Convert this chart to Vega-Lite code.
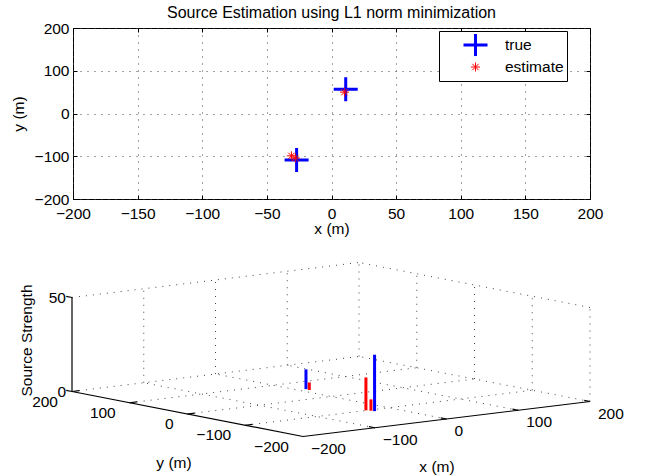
{
  "$schema": "https://vega.github.io/schema/vega-lite/v6.json",
  "padding": {"left": 10, "top": 4, "right": 5, "bottom": 0},
  "background": "white",
  "spacing": 10,
  "datasets": {
    "sources": [
      {"series": "true", "x": 11, "y": 57, "strength": 10.5},
      {"series": "true", "x": -27, "y": -109, "strength": 30},
      {"series": "estimate", "x": 10, "y": 50, "strength": 4},
      {"series": "estimate", "x": -31, "y": -99, "strength": 17.5},
      {"series": "estimate", "x": -28, "y": -104, "strength": 6}
    ],
    "lines3d": [
      {"kind": "grid", "x1": -100, "y1": -200, "z1": 0, "x2": -100, "y2": 200, "z2": 0},
      {"kind": "grid", "x1": 0, "y1": -200, "z1": 0, "x2": 0, "y2": 200, "z2": 0},
      {"kind": "grid", "x1": 100, "y1": -200, "z1": 0, "x2": 100, "y2": 200, "z2": 0},
      {"kind": "grid", "x1": 200, "y1": -200, "z1": 0, "x2": 200, "y2": 200, "z2": 0},
      {"kind": "grid", "x1": -200, "y1": -100, "z1": 0, "x2": 200, "y2": -100, "z2": 0},
      {"kind": "grid", "x1": -200, "y1": 0, "z1": 0, "x2": 200, "y2": 0, "z2": 0},
      {"kind": "grid", "x1": -200, "y1": 100, "z1": 0, "x2": 200, "y2": 100, "z2": 0},
      {"kind": "grid", "x1": -200, "y1": 200, "z1": 0, "x2": 200, "y2": 200, "z2": 0},
      {"kind": "grid", "x1": -100, "y1": 200, "z1": 0, "x2": -100, "y2": 200, "z2": 50},
      {"kind": "grid", "x1": 0, "y1": 200, "z1": 0, "x2": 0, "y2": 200, "z2": 50},
      {"kind": "grid", "x1": 100, "y1": 200, "z1": 0, "x2": 100, "y2": 200, "z2": 50},
      {"kind": "grid", "x1": 200, "y1": 200, "z1": 0, "x2": 200, "y2": 200, "z2": 50},
      {"kind": "grid", "x1": -200, "y1": 200, "z1": 50, "x2": 200, "y2": 200, "z2": 50},
      {"kind": "grid", "x1": 200, "y1": -200, "z1": 0, "x2": 200, "y2": -200, "z2": 50},
      {"kind": "grid", "x1": 200, "y1": -100, "z1": 0, "x2": 200, "y2": -100, "z2": 50},
      {"kind": "grid", "x1": 200, "y1": 0, "z1": 0, "x2": 200, "y2": 0, "z2": 50},
      {"kind": "grid", "x1": 200, "y1": 100, "z1": 0, "x2": 200, "y2": 100, "z2": 50},
      {"kind": "grid", "x1": 200, "y1": -200, "z1": 50, "x2": 200, "y2": 200, "z2": 50},
      {"kind": "axis", "x1": -200, "y1": 200, "z1": 0, "x2": -200, "y2": 200, "z2": 50},
      {"kind": "axis", "x1": -200, "y1": -200, "z1": 0, "x2": -200, "y2": 200, "z2": 0},
      {"kind": "axis", "x1": -200, "y1": -200, "z1": 0, "x2": 200, "y2": -200, "z2": 0},
      {"kind": "axis", "x1": -100, "y1": -200, "z1": 0, "x2": -100, "y2": -190, "z2": 0},
      {"kind": "axis", "x1": 0, "y1": -200, "z1": 0, "x2": 0, "y2": -190, "z2": 0},
      {"kind": "axis", "x1": 100, "y1": -200, "z1": 0, "x2": 100, "y2": -190, "z2": 0},
      {"kind": "axis", "x1": 200, "y1": -200, "z1": 0, "x2": 200, "y2": -190, "z2": 0},
      {"kind": "axis", "x1": -200, "y1": -100, "z1": 0, "x2": -190, "y2": -100, "z2": 0},
      {"kind": "axis", "x1": -200, "y1": 0, "z1": 0, "x2": -190, "y2": 0, "z2": 0},
      {"kind": "axis", "x1": -200, "y1": 100, "z1": 0, "x2": -190, "y2": 100, "z2": 0},
      {"kind": "axis", "x1": -200, "y1": 200, "z1": 0, "x2": -190, "y2": 200, "z2": 0},
      {"kind": "axis", "x1": -200, "y1": 200, "z1": 0, "x2": -200, "y2": 210, "z2": 0},
      {"kind": "axis", "x1": -200, "y1": 200, "z1": 50, "x2": -200, "y2": 210, "z2": 50}
    ],
    "xlab": [
      {"x": -200, "y": -200, "z": 0},
      {"x": -100, "y": -200, "z": 0},
      {"x": 0, "y": -200, "z": 0},
      {"x": 100, "y": -200, "z": 0},
      {"x": 200, "y": -200, "z": 0}
    ],
    "ylab": [
      {"x": -200, "y": 200, "z": 0},
      {"x": -200, "y": 100, "z": 0},
      {"x": -200, "y": 0, "z": 0},
      {"x": -200, "y": -100, "z": 0},
      {"x": -200, "y": -200, "z": 0}
    ],
    "zlab": [
      {"x": -200, "y": 200, "z": 0},
      {"x": -200, "y": 200, "z": 50}
    ]
  },
  "vconcat": [
    {
      "width": 517,
      "height": 171,
      "title": {"text": "Source Estimation using L1 norm minimization", "offset": 0},
      "data": {"name": "sources"},
      "layer": [
        {
          "mark": {"type": "point", "filled": false, "opacity": 1},
          "encoding": {
            "x": {"field": "x", "type": "quantitative",
                  "scale": {"domain": [-200, 200], "nice": false, "zero": false},
                  "axis": {"orient": "bottom", "values": [-200, -150, -100, -50, 0, 50, 100, 150, 200], "title": "x (m)", "grid": true, "labelPadding": 11, "titlePadding": 0, "labelFlush": false}},
            "y": {"field": "y", "type": "quantitative",
                  "scale": {"domain": [-200, 200], "nice": false, "zero": false},
                  "axis": {"orient": "left", "values": [-200, -100, 0, 100, 200], "title": "y (m)", "grid": true, "labelPadding": 8, "titlePadding": 8, "labelFlush": false}},
            "color": {"field": "series", "type": "nominal",
                      "scale": {"domain": ["true", "estimate"], "range": ["#0000ff", "#ff0000"]},
                      "legend": {"orient": "none", "legendX": 366, "legendY": 3, "title": " ", "titleOrient": "left", "titlePadding": 5, "titleFontSize": 15.5, "strokeColor": "#000", "fillColor": "#fff", "padding": 3, "symbolOffset": 15, "labelOffset": 16, "rowPadding": 0, "clipHeight": 22, "labelFontSize": 15.5, "labelFont": "Liberation Sans", "labelColor": "#000"}},
            "shape": {"field": "series", "type": "nominal",
                      "scale": {"domain": ["true", "estimate"], "range": ["M-1,0L1,0M0,-1L0,1", "M-1,0L1,0M0,-1L0,1M-0.7,-0.7L0.7,0.7M-0.7,0.7L0.7,-0.7"]}},
            "size": {"field": "series", "type": "ordinal",
                     "scale": {"domain": ["true", "estimate"], "range": [576, 81]}},
            "strokeWidth": {"field": "series", "type": "ordinal",
                     "scale": {"domain": ["true", "estimate"], "range": [3, 1]}}
          }
        },
        {
          "mark": {"type": "point", "opacity": 0},
          "encoding": {
            "x": {"field": "x", "type": "quantitative",
                  "axis": {"orient": "top", "values": [-200, -150, -100, -50, 0, 50, 100, 150, 200], "labels": false, "title": null, "grid": false}},
            "y": {"field": "y", "type": "quantitative",
                  "axis": {"orient": "right", "values": [-200, -100, 0, 100, 200], "labels": false, "title": null, "grid": false}}
          }
        }
      ],
      "resolve": {"axis": {"x": "independent", "y": "independent"}}
    },
    {
      "width": 517,
      "height": 220,
      "view": {"stroke": null},
      "layer": [
        {
          "data": {"name": "lines3d"},
          "transform": [
            {"filter": "datum.kind === 'grid'"},
            {"calculate": "0.7175*datum.x1 - 0.5775*datum.y1", "as": "u1"},
            {"calculate": "0.0875*datum.x1 + 0.1125*datum.y1 + 1.88*datum.z1", "as": "v1"},
            {"calculate": "0.7175*datum.x2 - 0.5775*datum.y2", "as": "u2"},
            {"calculate": "0.0875*datum.x2 + 0.1125*datum.y2 + 1.88*datum.z2", "as": "v2"}
          ],
          "mark": {"type": "rule", "strokeDash": [1, 6], "color": "#444", "strokeWidth": 1},
          "encoding": {
            "x": {"field": "u1", "type": "quantitative", "scale": {"domain": [-258, 259], "nice": false, "zero": false}, "axis": null},
            "y": {"field": "v1", "type": "quantitative", "scale": {"domain": [-71.5, 148.5], "nice": false, "zero": false}, "axis": null},
            "x2": {"field": "u2"},
            "y2": {"field": "v2"}
          }
        },
        {
          "data": {"name": "lines3d"},
          "transform": [
            {"filter": "datum.kind === 'axis'"},
            {"calculate": "0.7175*datum.x1 - 0.5775*datum.y1", "as": "u1"},
            {"calculate": "0.0875*datum.x1 + 0.1125*datum.y1 + 1.88*datum.z1", "as": "v1"},
            {"calculate": "0.7175*datum.x2 - 0.5775*datum.y2", "as": "u2"},
            {"calculate": "0.0875*datum.x2 + 0.1125*datum.y2 + 1.88*datum.z2", "as": "v2"}
          ],
          "mark": {"type": "rule", "color": "#000", "strokeWidth": 1.2},
          "encoding": {
            "x": {"field": "u1", "type": "quantitative"},
            "y": {"field": "v1", "type": "quantitative"},
            "x2": {"field": "u2"},
            "y2": {"field": "v2"}
          }
        },
        {
          "data": {"name": "sources"},
          "transform": [
            {"calculate": "0.7175*datum.x - 0.5775*datum.y", "as": "u"},
            {"calculate": "0.0875*datum.x + 0.1125*datum.y", "as": "v1"},
            {"calculate": "0.0875*datum.x + 0.1125*datum.y + 1.88*datum.strength", "as": "v2"}
          ],
          "mark": {"type": "rule", "strokeWidth": 3},
          "encoding": {
            "x": {"field": "u", "type": "quantitative"},
            "y": {"field": "v1", "type": "quantitative"},
            "y2": {"field": "v2"},
            "color": {"field": "series", "type": "nominal", "scale": {"domain": ["true", "estimate"], "range": ["#0000ff", "#ff0000"]}, "legend": null}
          }
        },
        {
          "data": {"name": "xlab"},
          "transform": [
            {"calculate": "0.7175*datum.x - 0.5775*datum.y", "as": "u"},
            {"calculate": "0.0875*datum.x + 0.1125*datum.y + 1.88*datum.z", "as": "v"}
          ],
          "mark": {"type": "text", "align": "left", "baseline": "middle", "dx": 8, "dy": 12, "fontSize": 15.5, "font": "Liberation Sans", "color": "#000"},
          "encoding": {
            "x": {"field": "u", "type": "quantitative"},
            "y": {"field": "v", "type": "quantitative"},
            "text": {"field": "x", "type": "quantitative"}
          }
        },
        {
          "data": {"name": "ylab"},
          "transform": [
            {"calculate": "0.7175*datum.x - 0.5775*datum.y", "as": "u"},
            {"calculate": "0.0875*datum.x + 0.1125*datum.y + 1.88*datum.z", "as": "v"}
          ],
          "mark": {"type": "text", "align": "right", "baseline": "middle", "dx": -14, "dy": 10, "fontSize": 15.5, "font": "Liberation Sans", "color": "#000"},
          "encoding": {
            "x": {"field": "u", "type": "quantitative"},
            "y": {"field": "v", "type": "quantitative"},
            "text": {"field": "y", "type": "quantitative"}
          }
        },
        {
          "data": {"name": "zlab"},
          "transform": [
            {"calculate": "0.7175*datum.x - 0.5775*datum.y", "as": "u"},
            {"calculate": "0.0875*datum.x + 0.1125*datum.y + 1.88*datum.z", "as": "v"}
          ],
          "mark": {"type": "text", "align": "right", "baseline": "middle", "dx": -6, "dy": 0, "fontSize": 15.5, "font": "Liberation Sans", "color": "#000"},
          "encoding": {
            "x": {"field": "u", "type": "quantitative"},
            "y": {"field": "v", "type": "quantitative"},
            "text": {"field": "z", "type": "quantitative"}
          }
        },
        {
          "data": {"values": [{"x": 0, "y": -200, "z": 0, "t": "x (m)"}]},
          "transform": [
            {"calculate": "0.7175*datum.x - 0.5775*datum.y", "as": "u"},
            {"calculate": "0.0875*datum.x + 0.1125*datum.y + 1.88*datum.z", "as": "v"}
          ],
          "mark": {"type": "text", "align": "center", "baseline": "middle", "dx": -9.5, "dy": 47.5, "fontSize": 15.5, "font": "Liberation Sans", "color": "#000"},
          "encoding": {
            "x": {"field": "u", "type": "quantitative"},
            "y": {"field": "v", "type": "quantitative"},
            "text": {"field": "t", "type": "nominal"}
          }
        },
        {
          "data": {"values": [{"x": -200, "y": 0, "z": 0, "t": "y (m)"}]},
          "transform": [
            {"calculate": "0.7175*datum.x - 0.5775*datum.y", "as": "u"},
            {"calculate": "0.0875*datum.x + 0.1125*datum.y + 1.88*datum.z", "as": "v"}
          ],
          "mark": {"type": "text", "align": "center", "baseline": "middle", "dx": -13.5, "dy": 48.5, "fontSize": 15.5, "font": "Liberation Sans", "color": "#000"},
          "encoding": {
            "x": {"field": "u", "type": "quantitative"},
            "y": {"field": "v", "type": "quantitative"},
            "text": {"field": "t", "type": "nominal"}
          }
        },
        {
          "data": {"values": [{"x": -200, "y": 200, "z": 25, "t": "Source Strength"}]},
          "transform": [
            {"calculate": "0.7175*datum.x - 0.5775*datum.y", "as": "u"},
            {"calculate": "0.0875*datum.x + 0.1125*datum.y + 1.88*datum.z", "as": "v"}
          ],
          "mark": {"type": "text", "align": "center", "baseline": "middle", "angle": 270, "dx": 4, "dy": -45.5, "fontSize": 15.5, "font": "Liberation Sans", "color": "#000"},
          "encoding": {
            "x": {"field": "u", "type": "quantitative"},
            "y": {"field": "v", "type": "quantitative"},
            "text": {"field": "t", "type": "nominal"}
          }
        }
      ]
    }
  ],
  "config": {
    "font": "Liberation Sans",
    "view": {"stroke": "#000", "strokeWidth": 1},
    "axis": {
      "labelFont": "Liberation Sans", "labelFontSize": 15.5, "labelColor": "#000",
      "titleFont": "Liberation Sans", "titleFontSize": 15.5, "titleFontWeight": "normal", "titleColor": "#000",
      "domain": false, "tickColor": "#000", "tickSize": -4, "tickWidth": 1,
      "gridColor": "#444", "gridDash": [1, 6], "gridOpacity": 1, "gridWidth": 1
    },
    "title": {"font": "Liberation Sans", "fontSize": 16, "fontWeight": "normal", "color": "#000"}
  }
}
